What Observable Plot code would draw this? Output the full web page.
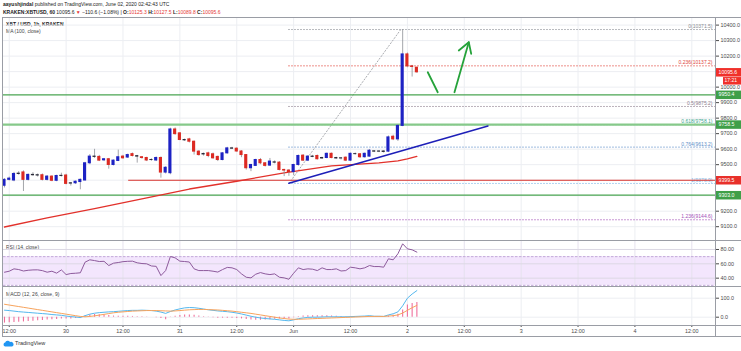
<!DOCTYPE html>
<html><head><meta charset="utf-8">
<script src="https://cdn.jsdelivr.net/npm/d3@7"></script>
<script src="https://cdn.jsdelivr.net/npm/@observablehq/plot@0.6"></script>
<style>
body{margin:0;background:#fff;}
#wrap{position:relative;width:741px;height:351px;overflow:hidden;font-family:"Liberation Sans",Arial,sans-serif;color:#222;background:#fff;}
.abs{position:absolute;white-space:nowrap;line-height:1;}
.hl{position:absolute;background:#9a9da5;}
.red{color:#e53935;}
svg{overflow:visible;}
</style></head><body><div id="wrap">
<div class="abs" id="h1" style="left:3px;top:2px;font-size:5px;"></div>
<div class="abs" id="h2" style="left:3px;top:10px;font-size:5px;"></div>
<div class="abs" id="p1" style="left:6px;top:22px;font-size:5px;font-weight:bold;"></div>
<div class="abs" id="p2" style="left:6px;top:29px;font-size:5px;color:#444;"></div>
<div class="abs" id="p3" style="left:6px;top:245px;font-size:5px;color:#444;"></div>
<div class="abs" id="p4" style="left:6px;top:292px;font-size:5px;color:#444;"></div>
</div>
<script>
// ---------- data ----------
const headerAuthor = "aayushjindal";
const headerPublished = " published on TradingView.com, June 02, 2020 02:42:43 UTC";
const symbolText = "KRAKEN:XBTUSD, 60";
const lastPrice = 10095.6, change = -110.6, changePct = -1.08;
const ohlcLast = {O: 10125.3, H: 10127.5, L: 10089.8, C: 10095.6};
const paneTitle = "XBT / USD, 1h, KRAKEN";
const maTitle = "MA (100, close)";
const rsiTitle = "RSI (14, close)";
const macdTitle = "MACD (12, 26, close, 9)";
const countdown = "17:21";

// hours counted from May 29 12:00
const timeTickHours = [0,12,24,36,48,60,72,84,96,108,120,132,144];
const timeTickLabels = ["12:00","30","12:00","31","12:00","Jun","12:00","2","12:00","3","12:00","4","12:00"];
const firstCandleHour = -1; // May 29 11:00, hourly candles

const open  = [9364,9402,9398,9440,9450,9402,9434,9432,9432,9402, 9423,9396,9427,9430,9378,9380,9388,9398,9509,9552,
               9550,9528,9535,9498,9524,9552,9546,9568,9555,9548, 9543,9530,9527,9543,9449,9445,9727,9702,9659,9663,
               9648,9584,9566,9573,9567,9550,9530,9573,9605,9603, 9585,9562,9477,9492,9530,9509,9494,9515,9513,9466,
               9462,9452,9498,9558,9526,9552,9556,9540,9543,9570, 9543,9540,9545,9526,9568,9567,9548,9552,9586,9584,
               9585,9584,9680,9663,9750,10211,10134,10125.3];
const close = [9402,9410,9440,9442,9402,9434,9432,9430,9402,9423, 9396,9427,9428,9376,9380,9390,9402,9509,9552,9550,
               9526,9535,9498,9526,9548,9541,9562,9556,9552,9543, 9527,9530,9543,9449,9480,9727,9697,9659,9657,9648,
               9584,9562,9569,9556,9541,9530,9573,9605,9603,9585, 9562,9477,9498,9530,9509,9492,9520,9513,9466,9462,
               9452,9498,9556,9526,9552,9550,9535,9543,9570,9543, 9540,9541,9526,9570,9568,9548,9570,9590,9584,9585,
               9582,9676,9663,9750,10211,10134,10130,10095.6];
const high  = [9410,9420,9450,9455,9460,9440,9448,9440,9440,9430, 9428,9432,9445,9438,9385,9395,9408,9515,9565,9599,
               9560,9540,9540,9530,9594,9560,9568,9575,9560,9552, 9548,9538,9550,9550,9487,9735,9737,9705,9665,9670,
               9652,9590,9575,9580,9575,9555,9578,9612,9612,9608, 9590,9565,9502,9535,9540,9512,9540,9525,9520,9470,
               9468,9502,9562,9565,9558,9560,9562,9548,9575,9575, 9548,9545,9550,9575,9575,9572,9575,9598,9590,9590,
               9590,9685,9690,9758,10371.5,10220,10140,10127.5];
const low   = [9350,9395,9390,9432,9327,9395,9425,9420,9395,9395, 9390,9390,9420,9370,9362,9372,9338,9395,9500,9540,
               9520,9520,9471,9492,9520,9535,9540,9550,9510,9535, 9520,9522,9520,9413,9440,9435,9690,9655,9650,9640,
               9562,9555,9555,9545,9535,9520,9525,9568,9598,9580, 9545,9465,9455,9488,9500,9485,9488,9505,9460,9423,
               9425,9430,9490,9520,9520,9545,9530,9535,9538,9538, 9535,9530,9520,9520,9562,9540,9542,9548,9578,9578,
               9575,9578,9655,9650,9745,10125,10065,10089.8];

const maHours  = [-1, 8, 18, 28, 38, 48, 58, 68, 78, 82, 84, 86];
const maValues = [9098, 9157, 9217, 9280, 9343, 9393, 9447, 9492, 9511, 9524, 9537, 9553];

const rsi = [48.3,49.7,53,52,50,51,51.5,51.6,50.5,48.3, 49.7,47,51.5,45,46.5,46.9,47.5,62.3,65.6,64.5,
             63.2,63.5,57.6,60.9,61.8,63,63.5,63.7,61.4,60.4, 60,57,56.5,43.6,50.6,70.2,68.3,63.7,63.2,62.5,
             53,50.6,50.6,50.6,49.7,48.5,52,55,54.4,52, 46,41.3,40.4,45.5,47.8,46,45,46,41.3,40.4,
             38.5,46.9,54.4,52,53,52.5,50.6,54.4,52,52, 53,50,50.6,55.3,54.4,53,54.4,57.6,56.2,56.2,
             55.3,67,65.6,74,87.9,80.9,79.5,76.3];
const macd = [37,35,32,29,27,25,23,21,19,17, 14,12,10,6,3,1,-2,8,16,21,
              24,26,28,29,31,33,35,36,36,37, 36,35,32,27,20,30,38,44,49,51,
              50,47,43,39,36,33,31,29,26,22, 17,11,5,0,-4,-7,-9,-11,-14,-17,
              -19,-14,-8,-4,-1,0,0,1,2,2, 2,2,2,3,4,5,6,8,5,5,
              4,12,18,28,60,100,122,140];
const signal = [68,64,60,56,52,48,44,40,36,32, 28,24,20,16,12,8,4,2,4,7,
                11,15,19,23,26,28,30,32,33,34, 35,35,35,34,33,32,33,35,37,39,
                40,41,41,40,39,38,36,34,32,29, 26,23,20,16,12,8,4,0,-4,-7,
                -10,-11,-11,-10,-9,-8,-7,-6,-5,-4, -3,-2,-1,0,1,2,3,4,4,4,
                4,6,8,12,22,36,50,62];
const hist = [-31,-29,-28,-27,-25,-23,-21,-19,-17,-15, -14,-12,-10,-10,-9,-7,-6,6,12,14,
              13,11,9,6,5,5,5,4,3,3, 1,0,-3,-7,-13,-2,5,9,12,12,
              10,6,2,-1,-3,-5,-5,-5,-6,-7, -9,-12,-15,-16,-16,-15,-13,-11,-10,-10,
              -9,-3,3,6,8,8,7,7,7,6, 5,4,3,3,3,3,3,4,1,1,
              0,6,10,16,38,64,72,78];

const priceTicks = [9100,9200,9300,9400,9500,9600,9700,9800,9900,10000,10100,10200,10300,10400];
const rsiTicks = [40,60,80];
const rsiBand = [30,70];
const macdTicks = [0,100];

// horizontal drawn levels
const hlinePrices = [9950.4, 9758.5, 9399.5, 9303.0];
const hlineStartHours = [-1.21, -1.21, 25.2, -1.21];
const hlineKinds = ["support","support","resist","support"];

// fib retracement
const fibHigh = 10371.5, fibLow = 9378.9;
const fibStartHour = 59.0, fibEndHour = 82.6;
const fibLevels = [0, 0.236, 0.5, 0.618, 0.764, 1, 1.236];

// rising trend line
const trendHours = [59.0, 101.0];
const trendPrices = [9380.6, 9749.4];

// hand-drawn green arrows
const zigHours = [88.3, 90.4];  const zigPrices = [10096, 9967];
const upHours = [93.93, 96.95]; const upPrices = [9967, 10289.6];
const headHours = [94.84, 96.95, 97.46]; const headPrices = [10236, 10289.6, 10215];

// ---------- build ----------
const xDomain = [-1.21, 149.0];
const priceDomain = [9011, 10449];
const rsiDomain = [27, 92.5];
const macdDomain = [-43.7, 156.3];

const candles = open.map((o, i) => ({h: firstCandleHour + i, o, c: close[i], hi: high[i], lo: low[i]}));
const maData = maHours.map((h, i) => ({h, v: maValues[i]}));
const rsiData = rsi.map((v, i) => ({h: firstCandleHour + i, v}));
const macdData = macd.map((v, i) => ({h: firstCandleHour + i, m: v, s: signal[i], hs: hist[i]}));
const hlines = hlinePrices.map((p, i) => ({p, start: hlineStartHours[i], kind: hlineKinds[i]}));
const fibColors = ["#8a8d94", "#e0463c", "#8f7f8f", "#3aa58f", "#5e8fc8", "#7fb6e6", "#a350b8"];
const fib = fibLevels.map((l, i) => ({l, p: fibHigh - l * (fibHigh - fibLow), color: fibColors[i]}));
const pt = (hs, ps) => hs.map((h, i) => ({h, p: ps[i]}));
// axis labels hidden under the price boxes (as in the reference)
const boxPrices = [...hlinePrices, lastPrice];
const axisTicks = priceTicks.filter(t => boxPrices.every(b => Math.abs(b - t) > 40));

const font = "Liberation Sans, Arial, sans-serif";
const baseStyle = {fontSize: "5.4px", fontFamily: font, color: "#4a4a4a", background: "transparent", overflow: "visible"};
const gridColor = "#eceef2";

function place(svg, top) {
  svg.style.position = "absolute";
  svg.style.left = "0px";
  svg.style.top = top + "px";
  document.getElementById("wrap").appendChild(svg);
}

const main = Plot.plot({
  width: 741, height: 223, marginLeft: 3, marginRight: 26, marginTop: 0, marginBottom: 0,
  style: baseStyle,
  x: {domain: xDomain, axis: null},
  y: {domain: priceDomain, axis: "right", ticks: axisTicks, tickFormat: d => d.toFixed(1), tickSize: 3, tickPadding: 2, label: null},
  marks: [
    Plot.ruleX(timeTickHours, {stroke: gridColor}),
    Plot.ruleY(priceTicks, {stroke: gridColor}),
    // fib levels
    Plot.ruleY(fib, {y: "p", x1: fibStartHour, x2: xDomain[1], stroke: "color", strokeDasharray: "1.2,1.8", strokeWidth: 1}),
    Plot.line(pt([fibStartHour, fibEndHour], [fibLow, fibHigh]), {x: "h", y: "p", stroke: "#a9abb0", strokeDasharray: "1.2,2", strokeWidth: 1}),
    Plot.text(fib, {y: "p", frameAnchor: "right", dx: -3, dy: -3, textAnchor: "end", fill: "color", fontSize: 5, text: d => `${d.l}(${d.p.toFixed(1)})`}),
    // horizontal levels
    Plot.ruleY(hlines.filter((d, i) => i === 1), {y: "p", x1: "start", x2: xDomain[1], stroke: "#86c98a", strokeWidth: 2.2}),
    Plot.ruleY(hlines.filter((d, i) => i !== 1), {y: "p", x1: "start", x2: xDomain[1], stroke: d => d.kind === "resist" ? "#d7322c" : "#4aa552", strokeWidth: 1.2}),
    // MA
    Plot.line(maData, {x: "h", y: "v", stroke: "#e2312b", strokeWidth: 1.3}),
    // trend line
    Plot.line(pt(trendHours, trendPrices), {x: "h", y: "p", stroke: "#1d1fb8", strokeWidth: 1.5}),
    // candles
    Plot.ruleX(candles, {x: "h", y1: "lo", y2: "hi", stroke: "#8d8f96", strokeWidth: 0.8}),
    Plot.rect(candles, {
      x1: d => d.h - 0.33, x2: d => d.h + 0.33,
      y1: d => Math.min(d.o, d.c), y2: d => Math.max(d.o, d.c),
      insetTop: -0.5, insetBottom: -0.5,
      fill: d => Math.abs(d.c - d.o) < 4 ? "#2b2b3a" : (d.c >= d.o ? "#1d22c4" : "#dc2a22")
    }),
    // green arrows
    Plot.line(pt(zigHours, zigPrices), {x: "h", y: "p", stroke: "#25a23a", strokeWidth: 1.8}),
    Plot.line(pt(upHours, upPrices), {x: "h", y: "p", stroke: "#25a23a", strokeWidth: 1.8}),
    Plot.line(pt(headHours, headPrices), {x: "h", y: "p", stroke: "#25a23a", strokeWidth: 1.8}),
    // price boxes on axis
    Plot.ruleY(hlines, {y: "p", insetLeft: 713, insetRight: -26, strokeWidth: 8.5, stroke: d => d.kind === "resist" ? "#e8302a" : "#3f9f48"}),
    Plot.text(hlines, {y: "p", frameAnchor: "right", dx: 3, textAnchor: "start", fill: "white", fontSize: 5.2, text: d => d.p.toFixed(1)}),
    Plot.ruleY([lastPrice], {insetLeft: 713, insetRight: -26, strokeWidth: 8.5, stroke: "#f0302a"}),
    Plot.text([lastPrice], {y: d => d, frameAnchor: "right", dx: 3, textAnchor: "start", fill: "white", fontSize: 5.2, text: d => d.toFixed(1)}),
    Plot.ruleY([lastPrice], {insetLeft: 720, insetRight: -26, strokeWidth: 7.5, dy: 8.5, stroke: "#f0302a"}),
    Plot.text([lastPrice], {y: d => d, frameAnchor: "right", dx: 9, dy: 8.5, textAnchor: "start", fill: "white", fontSize: 5, text: () => countdown})
  ]
});
place(main, 17);

const rsiPlot = Plot.plot({
  width: 741, height: 47, marginLeft: 3, marginRight: 26, marginTop: 0, marginBottom: 0,
  style: baseStyle,
  x: {domain: xDomain, axis: null},
  y: {domain: rsiDomain, axis: "right", ticks: rsiTicks, tickFormat: d => d.toFixed(2), tickSize: 3, tickPadding: 2, label: null},
  marks: [
    Plot.rect([rsiBand], {x1: xDomain[0], x2: xDomain[1], y1: d => d[0], y2: d => d[1], fill: "#f3e6fd"}),
    Plot.ruleX(timeTickHours, {stroke: "#e6e2ee"}),
    Plot.ruleY(rsiTicks, {stroke: "#dcd8e4"}),
    Plot.ruleY(rsiBand, {stroke: "#c2a9d8", strokeDasharray: "2.5,1.5"}),
    Plot.line(rsiData, {x: "h", y: "v", stroke: "#8d5a9c", strokeWidth: 1})
  ]
});
place(rsiPlot, 240);

const macdPlot = Plot.plot({
  width: 741, height: 49, marginLeft: 3, marginRight: 26, marginTop: 0, marginBottom: 11,
  style: baseStyle,
  x: {domain: xDomain, ticks: timeTickHours, tickFormat: d => timeTickLabels[timeTickHours.indexOf(d)], tickSize: 2, tickPadding: 2, label: null},
  y: {domain: macdDomain, axis: "right", ticks: macdTicks, tickFormat: d => d.toFixed(1), tickSize: 3, tickPadding: 2, label: null},
  marks: [
    Plot.ruleX(timeTickHours, {stroke: gridColor}),
    Plot.ruleY(macdTicks, {stroke: gridColor}),
    Plot.ruleX(macdData, {x: "h", y1: 0, y2: "hs", stroke: "#ef6f9c", strokeWidth: 1.1}),
    Plot.line(macdData, {x: "h", y: "m", stroke: "#55b8ee", strokeWidth: 1}),
    Plot.line(macdData, {x: "h", y: "s", stroke: "#f7a35c", strokeWidth: 1})
  ]
});
place(macdPlot, 287);

// frame lines
const wrap = document.getElementById("wrap");
function hline(x, y, w, h, color) {
  const d = document.createElement("div");
  d.className = "hl";
  d.style.left = x + "px"; d.style.top = y + "px"; d.style.width = w + "px"; d.style.height = h + "px";
  if (color) d.style.background = color;
  wrap.appendChild(d);
}
hline(2, 17, 739, 1);
hline(2, 240, 739, 1);
hline(2, 286, 739, 1);
hline(2, 325, 739, 1);
hline(2, 336, 739, 1);
hline(2, 17, 1, 320);
hline(715, 17, 1, 320);

// texts
document.getElementById("h1").innerHTML = `<b>${headerAuthor}</b>${headerPublished}`;
const sign = change < 0 ? "\u2212" : "+";
document.getElementById("h2").innerHTML =
  `<b>${symbolText}</b> ${lastPrice.toFixed(1)} <span class="red">\u25BC</span> ${sign}${Math.abs(change).toFixed(1)} (${sign}${Math.abs(changePct).toFixed(2)}%) | ` +
  Object.entries(ohlcLast).map(([k, v]) => `<b>${k}:</b><span class="red">${v.toFixed(1)}</span>`).join(" ");
document.getElementById("p1").textContent = paneTitle;
document.getElementById("p2").textContent = maTitle;
document.getElementById("p3").textContent = rsiTitle;
document.getElementById("p4").textContent = macdTitle;

// TradingView logo
const logo = document.createElement("div");
logo.className = "abs";
logo.style.left = "3px"; logo.style.top = "340px"; logo.style.fontSize = "5.5px"; logo.style.color = "#333";
logo.innerHTML = `<svg width="11" height="7" viewBox="0 0 11 7" style="vertical-align:middle;margin-right:1px"><path d="M2 6.5 A2 2 0 0 1 2.2 2.6 A2.6 2.6 0 0 1 7 2 A2.2 2.2 0 0 1 9 6.5 Z" fill="#2196f3"/></svg>TradingView`;
wrap.appendChild(logo);
</script></body></html>
